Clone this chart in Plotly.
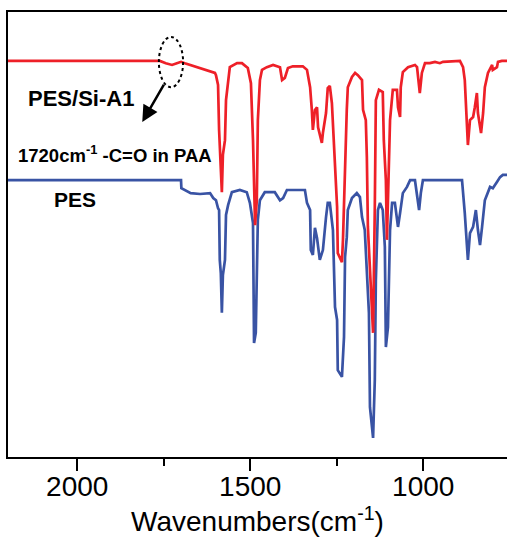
import plotly.graph_objects as go

# FTIR spectra (offset transmittance, arbitrary units)
pes_si_wn = [2200, 1761, 1744, 1726, 1712, 1700, 1689, 1645, 1616, 1602, 1599, 1593, 1590, 1588,
             1582, 1579, 1573, 1570, 1564, 1559, 1538, 1524, 1507, 1498, 1492, 1486, 1481, 1478,
             1472, 1466, 1452, 1434, 1414, 1408, 1400, 1391, 1377, 1348, 1336, 1327, 1322, 1319,
             1313, 1307, 1304, 1293, 1290, 1281, 1276, 1270, 1264, 1261, 1255, 1249, 1247, 1235,
             1232, 1226, 1221, 1218, 1206, 1197, 1189, 1177, 1174, 1166, 1163, 1160, 1154, 1148,
             1145, 1140, 1137, 1128, 1117, 1114, 1108, 1105, 1102, 1096, 1088, 1076, 1073, 1067,
             1065, 1059, 1044, 1024, 1018, 1015, 1010, 1004, 995, 981, 966, 952, 943, 894, 885,
             880, 874, 871, 865, 856, 851, 845, 842, 833, 827, 822, 813, 801, 799, 787, 784, 773, 750]
pes_si_t = [89.0, 89.0, 88.5, 88.1, 88.5, 88.8, 88.5, 87.4, 86.7, 86.3, 85.8, 83.6, 73.5, 69.0,
            59.5, 67.9, 71.2, 80.2, 84.7, 87.6, 88.5, 88.5, 87.4, 84.0, 71.2, 52.1, 57.7, 75.7,
            84.7, 87.0, 87.6, 88.1, 87.6, 84.7, 85.2, 87.4, 87.8, 87.8, 87.0, 83.1, 78.0, 73.5,
            78.0, 78.6, 74.1, 70.6, 72.8, 77.3, 82.9, 83.4, 79.5, 74.1, 63.8, 56.2, 45.8, 43.8,
            48.8, 66.7, 78.0, 83.1, 85.4, 86.3, 85.8, 84.7, 78.0, 75.7, 67.4, 51.7, 41.3, 31.5,
            27.9, 56.2, 80.2, 82.5, 82.0, 71.2, 62.2, 48.8, 60.0, 75.7, 82.5, 82.5, 78.6, 76.4,
            83.1, 86.5, 87.6, 88.1, 87.6, 85.8, 81.8, 86.3, 88.5, 88.5, 88.8, 88.5, 88.8, 89.0, 87.6,
            84.7, 75.0, 70.1, 75.7, 76.4, 78.6, 81.8, 77.3, 72.8, 77.3, 83.1, 86.3, 88.1, 87.0, 87.6, 88.8, 89.0, 89.0]

pes_wn = [2200, 1700, 1699, 1672, 1645, 1616, 1607, 1599, 1593, 1590, 1588, 1585, 1582, 1579,
          1573, 1570, 1564, 1553, 1530, 1510, 1501, 1492, 1489, 1484, 1478, 1472, 1458, 1429,
          1414, 1405, 1394, 1342, 1336, 1327, 1325, 1319, 1313, 1307, 1299, 1290, 1281, 1276,
          1270, 1261, 1255, 1249, 1247, 1235, 1229, 1226, 1221, 1218, 1206, 1192, 1183, 1177,
          1169, 1163, 1157, 1154, 1145, 1140, 1137, 1131, 1125, 1117, 1111, 1108, 1102, 1096,
          1090, 1082, 1076, 1073, 1067, 1059, 1047, 1038, 1024, 1018, 1012, 1007, 1001, 888,
          880, 871, 865, 856, 848, 842, 836, 830, 822, 807, 799, 787, 778, 770, 750]
pes_t = [62.2, 62.2, 60.4, 59.3, 59.1, 59.3, 58.2, 57.7, 55.9, 55.5, 44.3, 41.3, 32.4, 40.9,
         44.3, 54.4, 56.6, 59.5, 60.0, 59.5, 57.1, 52.6, 25.6, 27.9, 53.3, 57.7, 59.5, 59.5,
         57.7, 58.2, 60.0, 60.0, 57.1, 55.5, 46.5, 45.4, 51.5, 49.2, 44.3, 46.5, 53.9, 57.1,
         57.1, 51.0, 33.7, 30.8, 19.5, 18.0, 27.0, 44.9, 49.4, 55.5, 58.2, 59.3, 58.4, 53.9,
         51.0, 42.7, 32.4, 11.2, 4.3, 17.3, 39.8, 55.5, 57.1, 55.5, 47.2, 24.7, 29.2, 51.0,
         57.1, 57.1, 53.9, 51.7, 54.8, 59.3, 60.7, 62.2, 62.2, 59.3, 55.5, 59.3, 62.2, 62.2,
         54.8, 44.3, 50.3, 51.7, 55.5, 51.0, 47.6, 51.7, 57.7, 60.7, 60.4, 61.8, 62.9, 63.4, 63.4]

FONT = "Arial, Liberation Sans, sans-serif"

fig = go.Figure()
fig.add_trace(go.Scatter(x=pes_wn, y=pes_t, mode="lines", name="PES",
                         line=dict(color="#3953a4", width=2.7)))
fig.add_trace(go.Scatter(x=pes_si_wn, y=pes_si_t, mode="lines", name="PES/Si-A1",
                         line=dict(color="#ee2028", width=2.7)))

# dotted ellipse around the 1720 cm-1 shoulder
fig.add_shape(type="circle", xref="x", yref="y", x0=1764, x1=1694, y0=83.1, y1=94.4,
              line=dict(color="black", width=2, dash="dot"))
fig.add_annotation(x=1812, y=75.3, ax=1747, ay=84.0, xref="x", yref="y", axref="x", ayref="y",
                   text="", showarrow=True, arrowhead=2, arrowsize=1.3, arrowwidth=2.5,
                   arrowcolor="black")

fig.add_annotation(x=0.036, y=0.838, xref="paper", yref="paper", text="<b>PES/Si-A1</b>",
                   showarrow=False, xanchor="left", font=dict(family=FONT, size=22, color="black"))
fig.add_annotation(x=0.088, y=0.578, xref="paper", yref="paper", text="<b>PES</b>",
                   showarrow=False, xanchor="left", font=dict(family=FONT, size=21, color="black"))
fig.add_annotation(x=0.016, y=0.712, xref="paper", yref="paper",
                   text="<b>1720cm<sup>-1</sup> -C=O in PAA</b>",
                   showarrow=False, xanchor="left", font=dict(family=FONT, size=18.5, color="black"))

fig.update_xaxes(range=[2200, 758], showline=True, linecolor="black", linewidth=2, mirror=True,
                 ticks="outside", ticklen=12, tickwidth=2, tickcolor="black",
                 tick0=0, dtick=500, showgrid=False, zeroline=False, automargin=False,
                 ticklabelstandoff=-9,
                 minor=dict(dtick=250, ticks="outside", ticklen=7, tickwidth=2, tickcolor="black"),
                 tickfont=dict(family=FONT, size=28, color="black"),
                 title=dict(text="Wavenumbers(cm<sup>-1</sup>)", standoff=6,
                            font=dict(family=FONT, size=28, color="black")))
fig.update_yaxes(range=[0, 100], showline=True, linecolor="black", linewidth=2, automargin=False,
                 showticklabels=False, ticks="", showgrid=False, zeroline=False)

fig.update_layout(width=507, height=548, margin=dict(l=8, r=0, t=12, b=91),
                  plot_bgcolor="white", paper_bgcolor="white", showlegend=False)

# drop the default 8px body margin so the figure fills the window exactly
fig.write_html("out.html", config={"displayModeBar": False},
               post_script="document.body.style.margin='0px';")
